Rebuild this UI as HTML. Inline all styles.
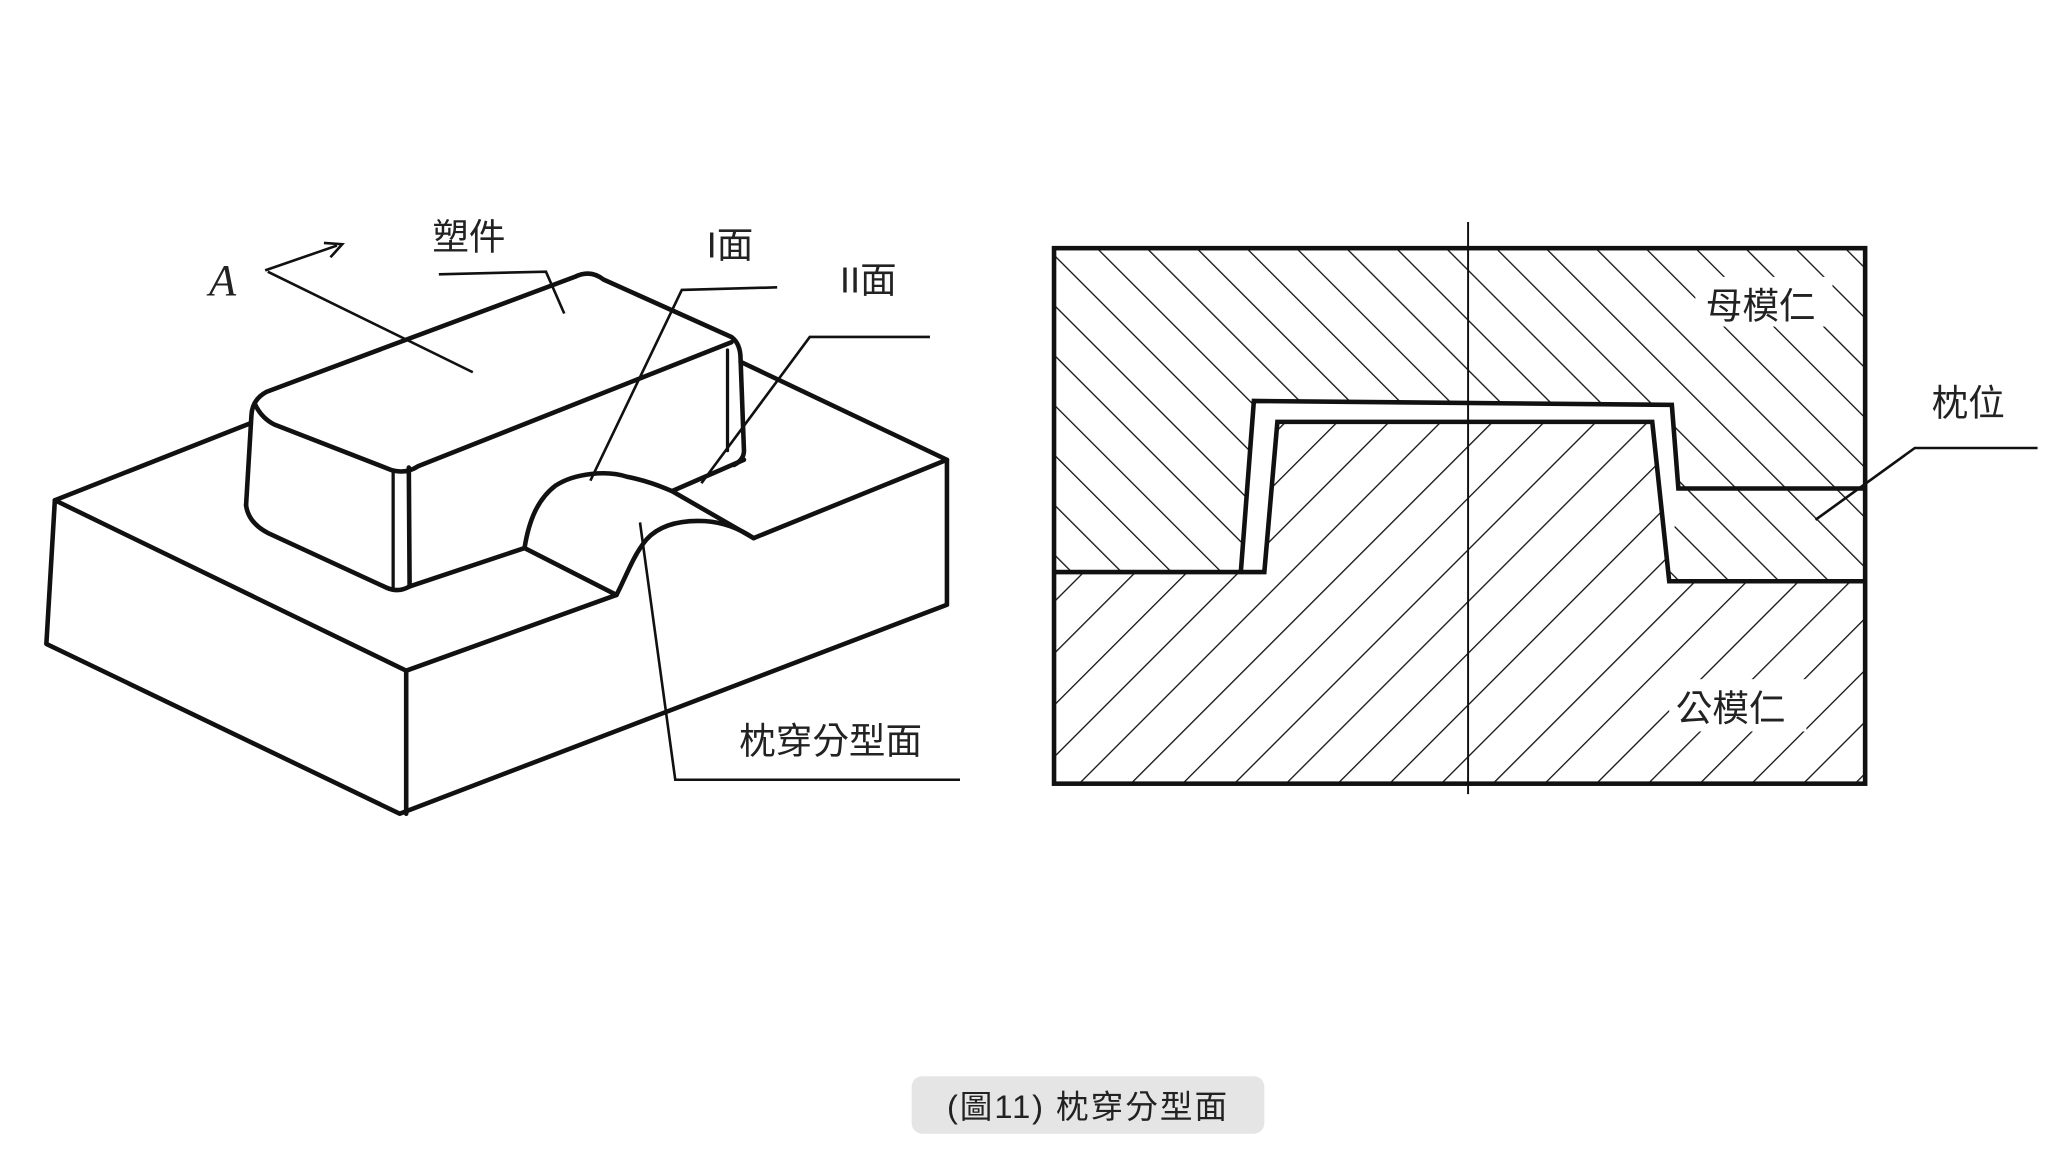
<!DOCTYPE html>
<html><head><meta charset="utf-8"><style>
html,body{margin:0;padding:0;background:#fff;}
svg{display:block}
text{font-family:"Liberation Sans","Noto Sans CJK TC",sans-serif;fill:#222}
</style></head><body>
<svg width="2048" height="1152" viewBox="0 0 1568 882" xmlns="http://www.w3.org/2000/svg">
<defs>
<pattern id="hb" patternUnits="userSpaceOnUse" width="27" height="27" patternTransform="rotate(-45)">
<line x1="0" y1="0" x2="0" y2="27" stroke="#111" stroke-width="2"/></pattern>
<pattern id="hf" patternUnits="userSpaceOnUse" width="28" height="28" patternTransform="rotate(45)">
<line x1="0" y1="0" x2="0" y2="28" stroke="#111" stroke-width="2"/></pattern>
</defs>
<g fill="none" stroke="#111" stroke-width="3.5" stroke-linejoin="round" stroke-linecap="round">
<path d="M42,383 L35.5,493 L306,623 L725,463 L725,352"/>
<path d="M42,383 L311,513.5 L311,623"/>
<path d="M42,383 L192,324"/>
<path d="M567,277 L725,352 L577,412"/>
<path d="M311,513.5 L472,455.5"/>
<path d="M313.6,449 L401.6,419.6 L472,455.5"/>
<path d="M401.6,419.6 C405,398 412,382 425,372 C440,362 465,360 480,365 C495,368 505,372 514.5,376 L577,412"/>
<path d="M472,455.5 C480,440 485,425 495,413 C505,402 520,398 540,399 C555,400 568,406 577,412"/>
<path d="M514.5,376 L569.6,352"/>
<path d="M188.4,386.8 L192.5,318 Q193,306 204,300 L440,212 Q452,206 462,214 L560,258 Q567,263 567,275 L569.6,345 Q569.6,352 562,356"/>
<path d="M195,309 Q200,320 210,325 L300,360 Q311,363 320,357 L560,262"/>
<path d="M188.4,386.8 Q190,400 205,408 L296,450 Q305,454 313.6,449"/>
<path d="M301,361 L301,450" stroke-width="2.5"/>
<path d="M313,358 L313.6,449"/>
<path d="M557,268 L557,345" stroke-width="2.5"/>
</g>
<g fill="none" stroke="#111" stroke-width="2">
<path d="M205,208 L362,285"/>
<path d="M203,207 L258,188"/>
<path d="M248,186 L262,187 L253,197"/>
<path d="M336,210 L418,208 L432,240"/>
<path d="M595,220 L522,222 L452,368"/>
<path d="M712,258 L620,258 L537,370"/>
<path d="M735,597 L517,597 L490,400"/>
</g>
<text x="160" y="226" style="font-family:'Liberation Serif',serif;font-style:italic;font-size:34px">A</text>
<text x="331" y="191" font-size="28">塑件</text>
<text x="541" y="197" font-size="28">I面</text>
<text x="643" y="224" font-size="28">II面</text>
<text x="566" y="577" font-size="28">枕穿分型面</text>
<path d="M807,190 L1428,190 L1428,374 L1285,374 L1280,310 L960,307 L950,438 L807,438 Z" fill="url(#hb)"/>
<path d="M1285,374 L1428,374 L1428,445 L1278,445 Z" fill="url(#hb)"/>
<path d="M807,438 L968,438 L978,323 L1265,323 L1278,445 L1428,445 L1428,600 L807,600 Z" fill="url(#hf)"/>
<rect x="1298" y="212" width="105" height="38" fill="#fff"/>
<rect x="1278" y="520" width="105" height="40" fill="#fff"/>
<g fill="none" stroke="#111" stroke-width="3.5" stroke-linejoin="miter">
<rect x="807" y="190" width="621" height="410"/>
<path d="M807,438 L968,438 L978,323 L1265,323 L1278,445 L1428,445"/>
<path d="M950,438 L960,307 L1280,310 L1285,374 L1428,374"/>
</g>
<line x1="1124" y1="170" x2="1124" y2="608" stroke="#111" stroke-width="1.5"/>
<path d="M1390,398 L1466,343 L1560,343" fill="none" stroke="#111" stroke-width="2"/>
<text x="1306" y="244" font-size="28">母模仁</text>
<text x="1479" y="318" font-size="28">枕位</text>
<text x="1283" y="552" font-size="28">公模仁</text>
<rect x="698" y="824" width="270" height="44" rx="8" fill="#e5e5e5"/>
<text x="833" y="856" font-size="25" letter-spacing="1.5" text-anchor="middle" fill="#333">(圖11) 枕穿分型面</text>
</svg>
</body></html>
